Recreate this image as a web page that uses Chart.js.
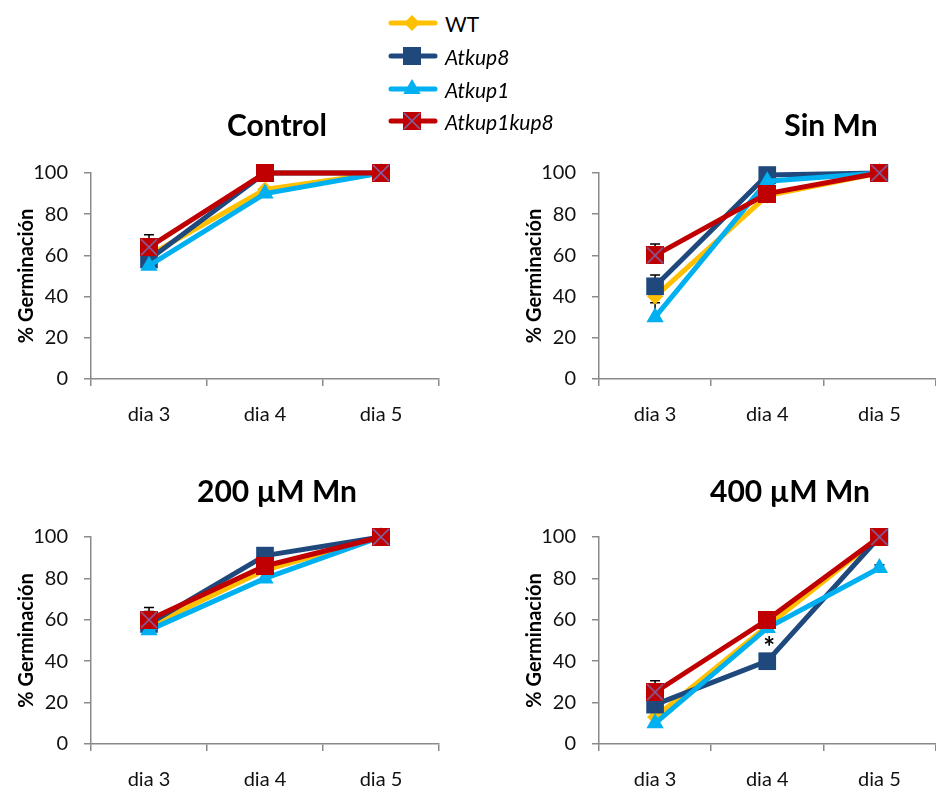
<!DOCTYPE html>
<html><head><meta charset="utf-8">
<script src="https://cdn.jsdelivr.net/npm/chart.js@4.4.1/dist/chart.umd.min.js"></script>
<style>
html,body{margin:0;padding:0;background:#fff;overflow:hidden;}
#stage{position:relative;width:936px;height:792px;overflow:hidden;background:#fff;}
#stage canvas.panel{position:absolute;}
#legend{position:absolute;left:0;top:0;font-family:Lato,sans-serif;font-size:21px;color:#000;}
.item{position:absolute;height:32px;display:flex;align-items:center;white-space:nowrap;}
.item canvas{display:block;margin-right:7px;}
.it{font-style:italic;}
.ptitle{position:absolute;width:400px;height:36px;line-height:36px;text-align:center;
  font-family:Lato,sans-serif;font-weight:bold;font-size:30px;color:#000;white-space:nowrap;}
</style></head>
<body>
<div id="stage">
  <canvas id="c1" class="panel"></canvas>
  <canvas id="c2" class="panel"></canvas>
  <canvas id="c3" class="panel"></canvas>
  <canvas id="c4" class="panel"></canvas>
  <div id="titles"></div>
  <div id="legend"></div>
</div>
<script>
// ---------- data ----------
const days = ['dia 3', 'dia 4', 'dia 5'];
const seriesNames = ['WT', 'Atkup8', 'Atkup1', 'Atkup1kup8'];
const yTickMin = 0, yTickMax = 100, yTickStep = 20;
const panelTitles = ['Control', 'Sin Mn', '200 µM Mn', '400 µM Mn'];
const yAxisTitle = '% Germinación';

// Control
const controlWT = [60, 92, 100];
const controlKup8 = [58, 100, 100];
const controlKup1 = [55, 90, 100];
const controlKup1kup8 = [64, 100, 100];
const controlErrWT = [4, 0, 0];
const controlErrKup8 = [4, 0, 0];
const controlErrKup1 = [3, 0, 0];
const controlErrKup1kup8 = [6, 0, 0];

// Sin Mn
const sinMnWT = [40, 89, 100];
const sinMnKup8 = [45, 99, 100];
const sinMnKup1 = [30, 96, 100];
const sinMnKup1kup8 = [60, 90, 100];
const sinMnErrWT = [3, 0, 0];
const sinMnErrKup8 = [5.5, 0, 0];
const sinMnErrKup1 = [7, 0, 0];
const sinMnErrKup1kup8 = [5.5, 0, 0];

// 200 µM Mn
const mn200WT = [57, 84, 100];
const mn200Kup8 = [58, 91, 100];
const mn200Kup1 = [55, 80, 100];
const mn200Kup1kup8 = [60, 86, 100];
const mn200ErrWT = [3, 0, 0];
const mn200ErrKup8 = [6, 0, 0];
const mn200ErrKup1 = [3, 2.5, 0];
const mn200ErrKup1kup8 = [6, 0, 0];

// 400 µM Mn
const mn400WT = [13, 57, 100];
const mn400Kup8 = [19, 40, 100];
const mn400Kup1 = [10, 56, 85];
const mn400Kup1kup8 = [25, 60, 100];
const mn400ErrWT = [3, 0, 0];
const mn400ErrKup8 = [3, 0, 0];
const mn400ErrKup1 = [2, 0, 1.5];
const mn400ErrKup1kup8 = [5.5, 0, 0];
const mn400Asterisks = [{ day: 'dia 4', value: 50 }];

// ---------- styles ----------
const colors = { WT: '#FFC000', Atkup8: '#1F497D', Atkup1: '#00B0F0', Atkup1kup8: '#C00000' };
const crossColor = '#8064A2';
const axisGray = '#8a8a8a';
const FONT = 'Lato, "Open Sans", sans-serif';

function makeSquare(size, fill, cross) {
  const c = document.createElement('canvas');
  c.width = size; c.height = size;
  const g = c.getContext('2d');
  g.fillStyle = fill; g.fillRect(0, 0, size, size);
  if (cross) {
    g.strokeStyle = crossColor; g.lineWidth = 1.6;
    g.beginPath();
    g.moveTo(1, 1); g.lineTo(size - 1, size - 1);
    g.moveTo(size - 1, 1); g.lineTo(1, size - 1);
    g.stroke();
  }
  return c;
}
const redCross = makeSquare(18, colors.Atkup1kup8, true);
const redPlain = makeSquare(18, colors.Atkup1kup8, false);

function buildDatasets(wt, k8, k1, k18, eWT, e8, e1, e18) {
  const common = { borderWidth: 5, pointBorderWidth: 0, clip: false };
  return [
    Object.assign({ label: seriesNames[0], data: wt, errors: eWT, order: 4,
      borderColor: colors.WT, backgroundColor: colors.WT,
      pointStyle: 'rectRot', pointRadius: 8 }, common),
    Object.assign({ label: seriesNames[1], data: k8, errors: e8, order: 3,
      borderColor: colors.Atkup8, backgroundColor: colors.Atkup8,
      pointStyle: 'rect', pointRadius: 12.5 }, common),
    Object.assign({ label: seriesNames[2], data: k1, errors: e1, order: 2,
      borderColor: colors.Atkup1, backgroundColor: colors.Atkup1,
      pointStyle: 'triangle', pointRadius: 10 }, common),
    Object.assign({ label: seriesNames[3], data: k18, errors: e18, order: 1,
      borderColor: colors.Atkup1kup8, backgroundColor: colors.Atkup1kup8,
      pointStyle: [redCross, redPlain, redCross], pointRadius: 9 }, common)
  ];
}

// plus-direction error bars, drawn beneath the series
const errorBarPlugin = {
  id: 'errorBars',
  beforeDatasetsDraw(chart) {
    const ctx = chart.ctx, yScale = chart.scales.y;
    chart.data.datasets.forEach((ds, i) => {
      if (!ds.errors) return;
      const meta = chart.getDatasetMeta(i);
      ctx.save();
      ctx.strokeStyle = '#000'; ctx.lineWidth = 1.5;
      meta.data.forEach((pt, j) => {
        const e = ds.errors[j];
        if (!e) return;
        const v = ds.data[j];
        const y0 = yScale.getPixelForValue(v);
        const yT = yScale.getPixelForValue(v + e);
        const x = pt.x;
        ctx.beginPath();
        ctx.moveTo(x, y0); ctx.lineTo(x, yT);
        ctx.moveTo(x - 5, yT); ctx.lineTo(x + 5, yT);
        ctx.stroke();
      });
      ctx.restore();
    });
  }
};

const asteriskPlugin = {
  id: 'asterisks',
  afterDatasetsDraw(chart, args, opts) {
    const marks = opts.marks || [];
    const ctx = chart.ctx;
    marks.forEach(m => {
      const x = chart.scales.x.getPixelForValue(days.indexOf(m.day));
      const y = chart.scales.y.getPixelForValue(m.value);
      ctx.save();
      ctx.font = 'bold 28px ' + FONT;
      ctx.fillStyle = '#000';
      ctx.textAlign = 'center'; ctx.textBaseline = 'middle';
      ctx.fillText('*', x + 2, y + 7);
      ctx.restore();
    });
  }
};

function makeChart(id, pos, datasets, marks) {
  const cv = document.getElementById(id);
  cv.width = pos.w; cv.height = pos.h;
  cv.style.left = pos.left + 'px'; cv.style.top = pos.top + 'px';
  cv.style.width = pos.w + 'px'; cv.style.height = pos.h + 'px';
  return new Chart(cv, {
    type: 'line',
    data: { labels: days, datasets },
    plugins: [errorBarPlugin, asteriskPlugin],
    options: {
      responsive: false, animation: false, devicePixelRatio: 1,
      layout: { padding: { left: 0, right: pos.padRight, top: 33, bottom: 0 } },
      plugins: {
        legend: { display: false },
        tooltip: { enabled: false },
        title: { display: false },
        asterisks: { marks: marks || [] }
      },
      elements: { line: { tension: 0 } },
      scales: {
        x: {
          type: 'category', offset: true,
          grid: { offset: true, drawOnChartArea: false, drawTicks: true, tickLength: 7, color: axisGray, lineWidth: 1.5 },
          border: { display: true, color: axisGray, width: 1.5 },
          ticks: { color: '#111', padding: 17, font: { family: FONT, size: 20 } },
          afterFit: s => { s.height = 60; }
        },
        y: {
          min: yTickMin, max: yTickMax,
          ticks: { stepSize: yTickStep, color: '#111', padding: 16, font: { family: FONT, size: 20 } },
          grid: { drawOnChartArea: false, drawTicks: true, tickLength: 7, color: axisGray, lineWidth: 1.5 },
          border: { display: true, color: axisGray, width: 1.5 },
          title: { display: true, text: yAxisTitle, color: '#000',
            font: { family: FONT, size: 20, weight: 'bold' }, padding: { top: 15, bottom: 0 } },
          afterFit: s => { s.width = 91; }
        }
      }
    }
  });
}

makeChart('c1', { left: 0, top: 140, w: 468, h: 299, padRight: 29 },
  buildDatasets(controlWT, controlKup8, controlKup1, controlKup1kup8,
    controlErrWT, controlErrKup8, controlErrKup1, controlErrKup1kup8));
makeChart('c2', { left: 508, top: 140, w: 440, h: 299, padRight: 3 },
  buildDatasets(sinMnWT, sinMnKup8, sinMnKup1, sinMnKup1kup8,
    sinMnErrWT, sinMnErrKup8, sinMnErrKup1, sinMnErrKup1kup8));
makeChart('c3', { left: 0, top: 504, w: 468, h: 300, padRight: 29 },
  buildDatasets(mn200WT, mn200Kup8, mn200Kup1, mn200Kup1kup8,
    mn200ErrWT, mn200ErrKup8, mn200ErrKup1, mn200ErrKup1kup8));
makeChart('c4', { left: 508, top: 504, w: 440, h: 300, padRight: 3 },
  buildDatasets(mn400WT, mn400Kup8, mn400Kup1, mn400Kup1kup8,
    mn400ErrWT, mn400ErrKup8, mn400ErrKup1, mn400ErrKup1kup8), mn400Asterisks);

// ---------- panel titles ----------
const titleCenters = [[277, 124], [831, 124], [277, 490], [790, 490]];
const titlesEl = document.getElementById('titles');
panelTitles.forEach((t, i) => {
  const d = document.createElement('div');
  d.className = 'ptitle';
  d.textContent = t;
  d.style.left = (titleCenters[i][0] - 200) + 'px';
  d.style.top = (titleCenters[i][1] - 18) + 'px';
  titlesEl.appendChild(d);
});

// ---------- legend ----------
const legendRows = [7, 40, 73, 105];
const legendEl = document.getElementById('legend');
seriesNames.forEach((name, i) => {
  const row = document.createElement('div');
  row.className = 'item';
  row.style.left = '388px'; row.style.top = legendRows[i] + 'px';
  const cv = document.createElement('canvas');
  cv.width = 50; cv.height = 32;
  const g = cv.getContext('2d');
  const col = colors[name];
  g.strokeStyle = col; g.lineWidth = 5; g.lineCap = 'round';
  g.beginPath(); g.moveTo(3, 16); g.lineTo(47, 16); g.stroke();
  g.fillStyle = col;
  const cx = 24, cy = 16;
  if (i === 0) { g.beginPath(); g.moveTo(cx - 8, cy); g.lineTo(cx, cy - 8); g.lineTo(cx + 8, cy); g.lineTo(cx, cy + 8); g.closePath(); g.fill(); }
  else if (i === 1) { g.fillRect(cx - 9, cy - 9, 18, 18); }
  else if (i === 2) { g.beginPath(); g.moveTo(cx, cy - 10); g.lineTo(cx + 8.7, cy + 5); g.lineTo(cx - 8.7, cy + 5); g.closePath(); g.fill(); }
  else { g.drawImage(redCross, cx - 9, cy - 9); }
  row.appendChild(cv);
  const sp = document.createElement('span');
  sp.textContent = name;
  if (i > 0) sp.className = 'it';
  row.appendChild(sp);
  legendEl.appendChild(row);
});
</script>
</body></html>
